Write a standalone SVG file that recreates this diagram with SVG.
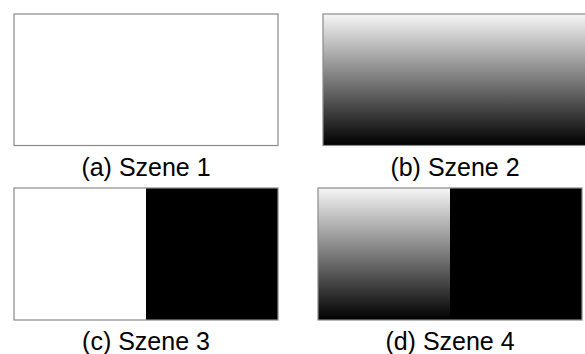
<svg xmlns="http://www.w3.org/2000/svg" width="585" height="354" viewBox="0 0 585 354">
<style>
.frame{fill:none;stroke:#8a8a8a;stroke-width:1.2}
.lbl{font-family:"Liberation Sans",Arial,Helvetica,sans-serif;font-size:25px;fill:#000;text-anchor:middle}
</style>
<defs>
<linearGradient id="grad" x1="0" y1="0" x2="0" y2="1">
<stop offset="0" stop-color="#f6f6f6"/>
<stop offset="1" stop-color="#000"/>
</linearGradient>
</defs>
<rect width="585" height="354" fill="#fff"/>
<g id="szene1">
<rect x="14" y="14" width="264" height="131.5" fill="#fff"/>
<rect class="frame" x="14" y="14" width="264" height="131.5"/>
<text class="lbl" x="146" y="176">(a) Szene 1</text>
</g>
<g id="szene2">
<rect x="323" y="14" width="264" height="131.5" fill="url(#grad)"/>
<rect class="frame" x="323" y="14" width="264" height="131.5"/>
<text class="lbl" x="455" y="176">(b) Szene 2</text>
</g>
<g id="szene3">
<rect x="14" y="188" width="132" height="132" fill="#fff"/>
<rect x="146" y="188" width="132" height="132" fill="#000"/>
<rect class="frame" x="14" y="188" width="264" height="132"/>
<text class="lbl" x="146" y="350">(c) Szene 3</text>
</g>
<g id="szene4">
<rect x="318" y="188" width="132" height="132" fill="url(#grad)"/>
<rect x="450" y="188" width="132" height="132" fill="#000"/>
<rect class="frame" x="318" y="188" width="264" height="132"/>
<text class="lbl" x="450" y="350">(d) Szene 4</text>
</g>
</svg>
